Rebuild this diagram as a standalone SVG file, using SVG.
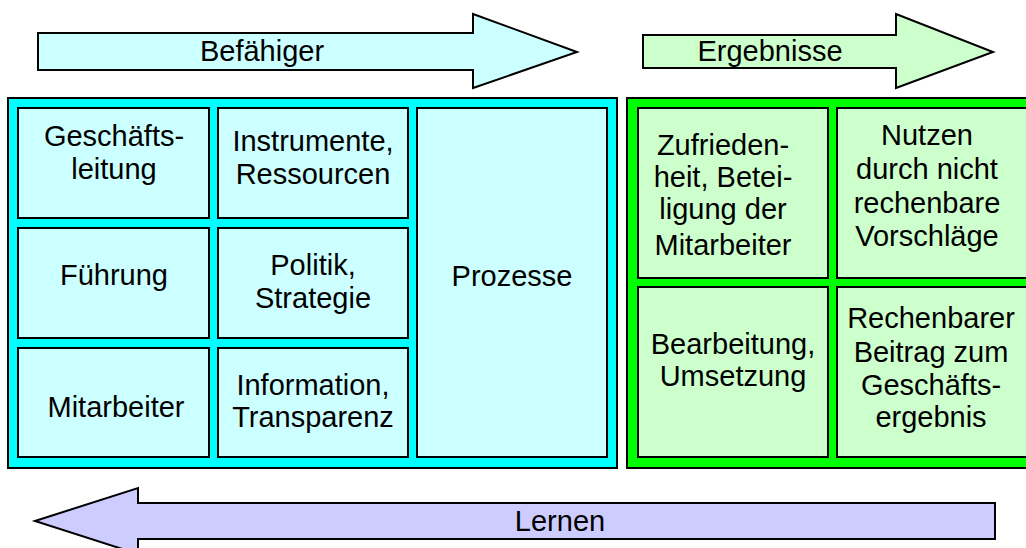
<svg xmlns="http://www.w3.org/2000/svg" width="1026" height="548" viewBox="0 0 1026 548">
<style>
text{font-family:"Liberation Sans",Arial,sans-serif;font-size:29px;fill:#000;text-anchor:middle}
.arrow{stroke:#000;stroke-width:2;stroke-linejoin:miter}
.outer{stroke:#000;stroke-width:2}
.cy{fill:#CCFFFF;stroke:#000;stroke-width:2}
.gr{fill:#CCFFCC;stroke:#000;stroke-width:2}
</style>
<rect width="1026" height="548" fill="#fff"/>
<g id="arrow-befaehiger">
<path class="arrow" fill="#CCFFFF" d="M38,33 H473 V14 L577,52 L473,88 V70 H38 Z"/>
<text x="262" y="61">Befähiger</text>
</g>
<g id="arrow-ergebnisse">
<path class="arrow" fill="#CCFFCC" d="M643,35 H896 V14 L993,52 L896,88 V68 H643 Z"/>
<text x="770" y="61">Ergebnisse</text>
</g>
<g id="arrow-lernen">
<path class="arrow" fill="#CCCCFF" d="M35,521 L138,488 V503 H995 V539 H138 V554 Z"/>
<text x="560" y="531">Lernen</text>
</g>
<g id="befaehiger-panel">
<rect class="outer" fill="#00FFFF" x="8" y="98" width="609" height="370"/>
</g>
<g id="ergebnisse-panel">
<rect class="outer" fill="#00FF00" x="627" y="98" width="410" height="370"/>
</g>
<g id="geschaeftsleitung">
<rect class="cy" x="18" y="108" width="191" height="110"/>
<text x="114" y="146">Geschäfts-</text>
<text x="114" y="179">leitung</text>
</g>
<g id="instrumente">
<rect class="cy" x="218" y="108" width="190" height="110"/>
<text x="313" y="151">Instrumente,</text>
<text x="313" y="184">Ressourcen</text>
</g>
<g id="fuehrung">
<rect class="cy" x="18" y="228" width="191" height="110"/>
<text x="114" y="285">Führung</text>
</g>
<g id="politik">
<rect class="cy" x="218" y="228" width="190" height="110"/>
<text x="313" y="275">Politik,</text>
<text x="313" y="308">Strategie</text>
</g>
<g id="mitarbeiter">
<rect class="cy" x="18" y="348" width="191" height="109"/>
<text x="116" y="417">Mitarbeiter</text>
</g>
<g id="information">
<rect class="cy" x="218" y="348" width="190" height="109"/>
<text x="313" y="395">Information,</text>
<text x="313" y="427">Transparenz</text>
</g>
<g id="prozesse">
<rect class="cy" x="417" y="108" width="190" height="349"/>
<text x="512" y="286">Prozesse</text>
</g>
<g id="zufriedenheit">
<rect class="gr" x="638" y="108" width="190" height="170"/>
<text x="723" y="155">Zufrieden-</text>
<text x="723" y="187">heit, Betei-</text>
<text x="723" y="219">ligung der</text>
<text x="723" y="255">Mitarbeiter</text>
</g>
<g id="nutzen">
<rect class="gr" x="837" y="108" width="200" height="170"/>
<text x="927" y="145">Nutzen</text>
<text x="927" y="179">durch nicht</text>
<text x="927" y="213">rechenbare</text>
<text x="927" y="246">Vorschläge</text>
</g>
<g id="bearbeitung">
<rect class="gr" x="638" y="287" width="190" height="170"/>
<text x="733" y="354">Bearbeitung,</text>
<text x="733" y="386">Umsetzung</text>
</g>
<g id="rechenbarer">
<rect class="gr" x="837" y="287" width="200" height="170"/>
<text x="931" y="328">Rechenbarer</text>
<text x="931" y="362">Beitrag zum</text>
<text x="931" y="395">Geschäfts-</text>
<text x="931" y="427">ergebnis</text>
</g>
<g id="connectors"></g>
</svg>
